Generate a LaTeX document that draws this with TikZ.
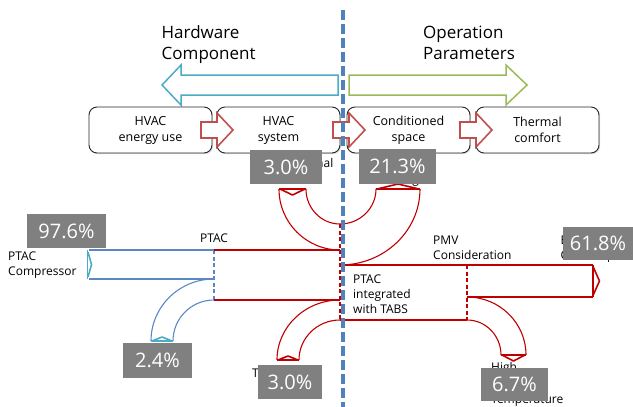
\documentclass[tikz,border=0pt]{standalone}
\usepackage{fontspec}
\setmainfont{Open Sans}
\usetikzlibrary{shadows}
\definecolor{skred}{HTML}{C00000}
\definecolor{skblue}{HTML}{5B87C5}
\definecolor{ltblue}{HTML}{4BACC6}
\definecolor{bigblue}{HTML}{4BACC6}
\definecolor{biggreen}{HTML}{9BBB59}
\definecolor{blkred}{HTML}{C0504D}
\definecolor{divblue}{HTML}{4F81BD}
\definecolor{pctgray}{HTML}{808080}
\begin{document}
\begin{tikzpicture}[x=1pt,y=-1pt,
  stagebox/.style={draw=black!85, line width=0.9pt, rounded corners=8pt, fill=white,
    minimum width=123pt, minimum height=46pt, align=center, inner sep=0pt,
    font=\fontsize{12.5}{16}\selectfont,
    drop shadow={opacity=0.25, shadow xshift=1.2pt, shadow yshift=-1.2pt}},
  pct/.style={fill=pctgray, text=white, font=\fontsize{20}{24}\selectfont, inner sep=0pt},
  lbl/.style={font=\fontsize{12}{15}\selectfont, align=left, inner sep=0pt},
  head/.style={font=\fontsize{17}{21}\selectfont, align=left, inner sep=0pt},
  sk/.style={draw=skred, line width=1.1pt},
  skd/.style={draw=skred, line width=1.1pt, dash pattern=on 4pt off 2.5pt},
  skb/.style={draw=skblue, line width=1.1pt},
  skbd/.style={draw=skblue, line width=1.1pt, dash pattern=on 4pt off 2.5pt},
  chevb/.style={draw=ltblue, line width=1.6pt, line join=round},
  chevr/.style={draw=skred, line width=1.6pt, line join=round},
  blockarrow/.style={draw=blkred, line width=1.6pt, fill=white},
  divider/.style={draw=divblue, line width=3.6pt, dash pattern=on 10pt off 4pt}
]
\useasboundingbox (0,0) rectangle (633,407);

% headings
\node[head, anchor=north west] (hw) at (161.5,25.5) {Hardware\\Component};
\node[head, anchor=north west] (op) at (423,25.5) {Operation\\Parameters};

% big outline arrows
\draw[draw=bigblue, line width=1.5pt, fill=white] (338,75) -- (181,75) -- (181,65) -- (162,85) -- (181,105) -- (181,95) -- (338,95) -- cycle;
\draw[draw=biggreen, line width=1.5pt, fill=white] (349,75) -- (506,75) -- (506,65) -- (527,85) -- (506,105) -- (506,95) -- (349,95) -- cycle;

% stage boxes
\node[stagebox] (b1) at (150.5,130) {HVAC\\energy use};
\node[stagebox] (b2) at (278.5,130) {HVAC\\system};
\node[stagebox] (b3) at (408.5,130) {Conditioned\\space};
\node[stagebox] (b4) at (537.5,130) {Thermal\\comfort};

% block arrows between boxes
\foreach \sx in {201,333,460}{
  \draw[blockarrow, shift={(\sx,130)}] (0,-8) -- (16,-8) -- (16,-17) -- (32,0) -- (16,17) -- (16,8) -- (0,8) -- cycle;
}

% ---- sankey: blue part
\draw[skb] (214,250) -- (89,250);
\draw[skb] (89,279) -- (214,279);
\draw[chevb] (87.5,250) -- (87.5,279);
\draw[chevb] (88,252) -- (91.5,264.5) -- (88,277);
\draw[skbd] (214,250) -- (214,300);
\draw[skb] (214,279) arc[start angle=-90, end angle=-180, x radius=63, y radius=62];
\draw[skb] (214,300) arc[start angle=-90, end angle=-180, x radius=41, y radius=41];
\draw[chevb] (151,341) -- (173,341);
\draw[chevb] (152,341) -- (162,337) -- (172,341);

% ---- sankey: red part
\draw[sk] (214,250) -- (340,250);
\draw[sk] (214,300) -- (340,300);
% top-left U (3.0%)
\draw[sk] (279,189) arc[start angle=180, end angle=90, x radius=61, y radius=61];
\draw[sk] (306,189) arc[start angle=180, end angle=90, x radius=34, y radius=35];
\draw[chevr] (279,189) -- (306,189);
\draw[chevr] (280,189) -- (292.5,195) -- (305,189);
% top-right U (21.3%)
\draw[sk] (340,224) arc[start angle=90, end angle=0, x radius=36, y radius=35];
\draw[sk] (340,265) arc[start angle=90, end angle=0, x radius=80, y radius=76];
\draw[chevr] (376,189) -- (420,189);
\draw[chevr] (377,189) -- (398,184) -- (419,189);
% dashed splits
\draw[skd] (340,224) -- (340,320);
\draw[skd] (467,265) -- (467,320);
% bottom-left branch (3.0%)
\draw[sk] (340,300) arc[start angle=-90, end angle=-180, x radius=63, y radius=60];
\draw[sk] (340,320) arc[start angle=-90, end angle=-180, x radius=41, y radius=40];
\draw[chevr] (277,360) -- (299,360);
\draw[chevr] (278,360) -- (288,356) -- (298,360);
% right band
\draw[sk] (340,265) -- (593,265);
\draw[sk] (467,297) -- (593,297);
\draw[sk] (340,320) -- (467,320);
\draw[chevr] (593,265) -- (593,297);
\draw[chevr] (593,266.5) -- (599.5,281) -- (593,295.5);
% bottom-right branch (6.7%)
\draw[sk] (467,297) arc[start angle=-90, end angle=0, x radius=59, y radius=58];
\draw[sk] (467,320) arc[start angle=-90, end angle=0, x radius=34, y radius=35];
\draw[chevr] (501,355) -- (526,355);
\draw[chevr] (502,355) -- (513.5,361) -- (525,355);

% flow labels
\node[lbl, anchor=center] (lptac) at (214,238) {PTAC};
\node[lbl, anchor=north west] (lcomp) at (8,251.5) {PTAC\\Compressor};
\node[lbl, anchor=north west] (lpmv) at (433,235.5) {PMV\\Consideration};
\node[lbl, anchor=north west] (ltabs) at (353,274.5) {PTAC\\integrated\\with TABS};

% labels partly hidden behind the value boxes
\node[lbl, anchor=base east] (lth1) at (333.5,167) {Thermal};
\node[lbl, anchor=base] (lcool) at (398,183) {Cooling};
\node[lbl, anchor=base west] (lth2) at (252,377) {Thermal};
\node[lbl, anchor=north west] (lhigh) at (491,362.5) {High\\[17pt]Temperature};
\node[lbl, anchor=north west] (lenergy) at (560.5,235.5) {Energy\\Consumption};

% divider
\draw[divider] (343,10) -- (343,407);

% value boxes
\node[pct, minimum width=72pt, minimum height=34pt] (p1) at (286,167) {3.0\%};
\node[pct, minimum width=77pt, minimum height=35pt] (p2) at (397.5,166.5) {21.3\%};
\node[pct, minimum width=79pt, minimum height=34pt] (p3) at (66.5,231) {97.6\%};
\node[pct, minimum width=69pt, minimum height=35pt] (p4) at (157.5,360.5) {2.4\%};
\node[pct, minimum width=64pt, minimum height=34pt] (p5) at (290,382) {3.0\%};
\node[pct, minimum width=67pt, minimum height=33pt] (p6) at (514.5,384.5) {6.7\%};
\node[pct, minimum width=70pt, minimum height=33pt] (p7) at (598,243) {61.8\%};
\end{tikzpicture}
\end{document}
